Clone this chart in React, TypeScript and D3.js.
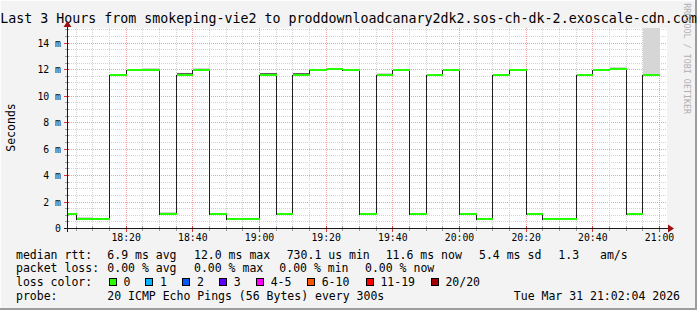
import React from "react";
import * as d3 from "d3";

// ---------- data ----------
const intervalStarts = [
  "18:00", "18:05", "18:10", "18:15", "18:20", "18:25", "18:30", "18:35", "18:40",
  "18:45", "18:50", "18:55", "19:00", "19:05", "19:10", "19:15", "19:20", "19:25",
  "19:30", "19:35", "19:40", "19:45", "19:50", "19:55", "20:00", "20:05", "20:10",
  "20:15", "20:20", "20:25", "20:30", "20:35", "20:40", "20:45", "20:50", "20:55",
];
// median rtt in ms
const medianMs = [
  1.1, 0.73, 0.73, 11.57, 11.95, 11.95, 1.1, 11.57, 11.95,
  1.1, 0.73, 0.73, 11.57, 1.1, 11.57, 11.95, 12.02, 11.95,
  1.1, 11.57, 11.95, 1.1, 11.57, 11.95, 1.1, 0.73, 11.57,
  11.95, 1.1, 0.73, 0.73, 11.57, 11.95, 12.02, 1.1, 11.57,
];
// upper edge of light smoke (0 = none)
const smokeLightTop = [
  0, 0.9, 0, 0, 0, 12.1, 1.25, 0, 12.1,
  0, 0, 0, 0, 0, 0, 0, 12.1, 0,
  0, 11.75, 12.05, 0, 0, 12.05, 0, 0, 0,
  0, 0, 0, 0, 0, 0, 12.2, 0, 16,
];
// upper edge of dark smoke (0 = none)
const smokeDarkTop = [
  0, 0, 0, 11.7, 0, 0, 0, 11.72, 0,
  0, 0, 0, 11.72, 0, 11.72, 0, 0, 0,
  0, 0, 0, 0, 11.7, 0, 0, 0, 11.7,
  0, 0, 0, 0, 11.7, 0, 0, 0, 11.7,
];
const xTickLabels = ["18:20", "18:40", "19:00", "19:20", "19:40", "20:00", "20:20", "20:40", "21:00"];
const yTickValues = [0, 2, 4, 6, 8, 10, 12, 14];
const yTickLabels = ["0", "2 m", "4 m", "6 m", "8 m", "10 m", "12 m", "14 m"];
const lossLabels = ["0", "1", "2", "3", "4-5", "6-10", "11-19", "20/20"];
const lossColors = ["#26ff00", "#00b8ff", "#0059ff", "#5e00ff", "#ff00ff", "#ff5500", "#ff0000", "#a10000"];
const rttStats = ["6.9 ms avg", "12.0 ms max", "730.1 us min", "11.6 ms now", "5.4 ms sd", "1.3", "am/s"];
const lossStats = ["0.00 % avg", "0.00 % max", "0.00 % min", "0.00 % now"];
const titleText = "Last 3 Hours from smokeping-vie2 to proddownloadcanary2dk2.sos-ch-dk-2.exoscale-cdn.com";
const probeText = "20 ICMP Echo Pings (56 Bytes) every 300s";
const dateText = "Tue Mar 31 21:02:04 2026";

// ---------- layout ----------
const W = 697, H = 310;
const PL = 67, PR = 667, PT = 28, PB = 228.5;
const rttX = [107.3, 194, 286.7, 385.7, 479, 558.3, 600];
const lossX = [107.3, 194, 279.3, 365];
const boxX = [108.7, 145.3, 182.3, 219, 256, 307, 365.7, 430.7];
const MONO = "'DejaVu Sans Mono', monospace";

const toMin = (s: string) => {
  const [h, m] = s.split(":").map(Number);
  return (h - 18) * 60 + m;
};

export default function App() {
  const x = d3.scaleLinear().domain([2.4, 182.4]).range([PL, PR]);
  const y = d3.scaleLinear().domain([0, 15.15]).range([PB, PT]);
  const cx = (t: number) => Math.round(x(t));
  const cy = (v: number) => Math.round(y(v) - 0.5) + 0.5;

  const starts = intervalStarts.map(toMin);
  const minorX = d3.range(5, 181, 5);
  const majorX = xTickLabels.map(toMin);
  const minorY = y.ticks(30).filter((v) => v <= 15);

  const stepPts: [number, number][] = starts.map((s, i) => [s, medianMs[i]]);
  stepPts.push([starts[starts.length - 1] + 5, medianMs[medianMs.length - 1]]);
  const stepLine = d3
    .line<[number, number]>()
    .x((d) => cx(d[0]) + 0.5)
    .y((d) => Math.round(y(d[1])))
    .curve(d3.curveStepAfter)(stepPts);

  const gridMinor = "#d2d2d2";
  const gridMajor = "#f2a0a0";

  return (
    <svg width={W} height={H} style={{ position: "absolute", left: 0, top: 0 }} xmlns="http://www.w3.org/2000/svg">
      <defs>
        <clipPath id="plotclip">
          <rect x={PL} y={PT} width={PR - PL} height={PB - PT} />
        </clipPath>
      </defs>
      <rect x={0} y={0} width={W} height={H} fill="#f3f3f3" />
      {/* frame */}
      <rect x={0} y={0} width={W} height={1} fill="#fdfdfd" />
      <rect x={0} y={0} width={1} height={H} fill="#fdfdfd" />
      <rect x={0} y={H - 2} width={W} height={2} fill="#9c9c9c" />
      <rect x={W - 2} y={0} width={2} height={H} fill="#9c9c9c" />

      {/* title */}
      <text x={W / 2} y={23} textAnchor="middle" fontFamily={MONO} fontSize={13.3} fill="#000">
        {titleText}
      </text>

      {/* plot background */}
      <rect x={PL} y={PT} width={PR - PL} height={PB - PT} fill="#ffffff" />

      {/* grid */}
      <g shapeRendering="crispEdges" strokeDasharray="1,1">
        {minorY.map((v) => (
          <line key={"hy" + v} x1={PL} x2={PR} y1={cy(v)} y2={cy(v)} stroke={yTickValues.includes(v) ? gridMajor : gridMinor} />
        ))}
        {minorX.map((t) => (
          <line key={"vx" + t} x1={cx(t) + 0.5} x2={cx(t) + 0.5} y1={PT} y2={PB} stroke={majorX.includes(t) ? gridMajor : gridMinor} />
        ))}
      </g>

      {/* smoke + median */}
      <g clipPath="url(#plotclip)" shapeRendering="crispEdges">
        {starts.map((s, i) =>
          smokeLightTop[i] > 0 ? (
            <rect key={"sl" + i} x={cx(s) + 1} y={Math.round(y(smokeLightTop[i]))} width={cx(s + 5) - cx(s)} height={Math.max(0, Math.round(y(medianMs[i])) - Math.round(y(smokeLightTop[i])))} fill="#d6d6d6" />
          ) : null
        )}
        {starts.map((s, i) =>
          smokeDarkTop[i] > 0 ? (
            <rect key={"sd" + i} x={cx(s) + 1} y={Math.round(y(smokeDarkTop[i]))} width={cx(s + 5) - cx(s)} height={Math.max(0, Math.round(y(medianMs[i])) - Math.round(y(smokeDarkTop[i])))} fill="#606060" />
          ) : null
        )}
        <path d={stepLine || ""} fill="none" stroke="#202020" strokeWidth={1} />
        {starts.map((s, i) => (
          <rect key={"m" + i} x={cx(s) + 1} y={Math.round(y(medianMs[i])) - 1} width={cx(s + 5) - cx(s)} height={2} fill={lossColors[0]} />
        ))}
      </g>

      {/* axes */}
      <g shapeRendering="crispEdges">
        {minorY.map((v) => (
          <line key={"ty" + v} x1={yTickValues.includes(v) ? PL - 3 : PL - 2} x2={PL + 2} y1={cy(v)} y2={cy(v)} stroke={yTickValues.includes(v) ? "#d04040" : "#a0a0a0"} />
        ))}
        {minorX.map((t) => (
          <line key={"tx" + t} x1={cx(t) + 0.5} x2={cx(t) + 0.5} y1={PB - 2.5} y2={majorX.includes(t) ? PB + 3 : PB + 2} stroke={majorX.includes(t) ? "#d04040" : "#a0a0a0"} />
        ))}
        <line x1={PL - 3} x2={PR + 2} y1={PB} y2={PB} stroke="#1a1a1a" />
        <line x1={PL + 0.5} x2={PL + 0.5} y1={PB + 3} y2={PT - 3} stroke="#1a1a1a" />
      </g>
      <path d={`M${PL - 3.5},${PT - 1} L${PL + 0.5},${PT - 7} L${PL + 4.5},${PT - 1} Z`} fill="#9b1010" />
      <path d={`M${PR + 1},${PB - 4} L${PR + 7},${PB} L${PR + 1},${PB + 4} Z`} fill="#9b1010" />

      {/* y labels */}
      {yTickValues.map((v, i) => (
        <text key={"yl" + v} x={61} y={y(v) + 3.5} textAnchor="end" fontFamily={MONO} fontSize={9.8} fill="#000">
          {yTickLabels[i]}
        </text>
      ))}
      {/* x labels */}
      {xTickLabels.map((l) => (
        <text key={"xl" + l} x={x(toMin(l)) + 0.5} y={241} textAnchor="middle" fontFamily={MONO} fontSize={9.8} fill="#000">
          {l}
        </text>
      ))}
      <text transform="translate(14.5,127.5) rotate(-90)" textAnchor="middle" fontFamily={MONO} fontSize={11.5} fill="#000">
        Seconds
      </text>
      <text transform="translate(684,58.7) rotate(90)" textAnchor="middle" fontFamily={MONO} fontSize={8.4} fill="#b0b0b0">
        RRDTOOL / TOBI OETIKER
      </text>

      {/* legend */}
      <g fontFamily={MONO} fontSize={11.5} fill="#000" style={{ whiteSpace: "pre" }}>
        <text x={16} y={258.5}>median rtt:</text>
        {rttStats.map((s, i) => (
          <text key={"r" + i} x={rttX[i]} y={258.5}>{s}</text>
        ))}
        <text x={16} y={272.3}>packet loss:</text>
        {lossStats.map((s, i) => (
          <text key={"l" + i} x={lossX[i]} y={272.3}>{s}</text>
        ))}
        <text x={16} y={286.2}>loss color:</text>
        {lossLabels.map((l, i) => (
          <g key={"lc" + i}>
            <rect x={Math.round(boxX[i]) + 0.5} y={278.5} width={7} height={7} fill={lossColors[i]} stroke="#000" strokeWidth={1} shapeRendering="crispEdges" />
            <text x={boxX[i] + 14.7} y={286.2}>{l}</text>
          </g>
        ))}
        <text x={16} y={300}>probe:</text>
        <text x={107.3} y={300}>{probeText}</text>
        <text x={680} y={300} textAnchor="end">{dateText}</text>
      </g>
    </svg>
  );
}
